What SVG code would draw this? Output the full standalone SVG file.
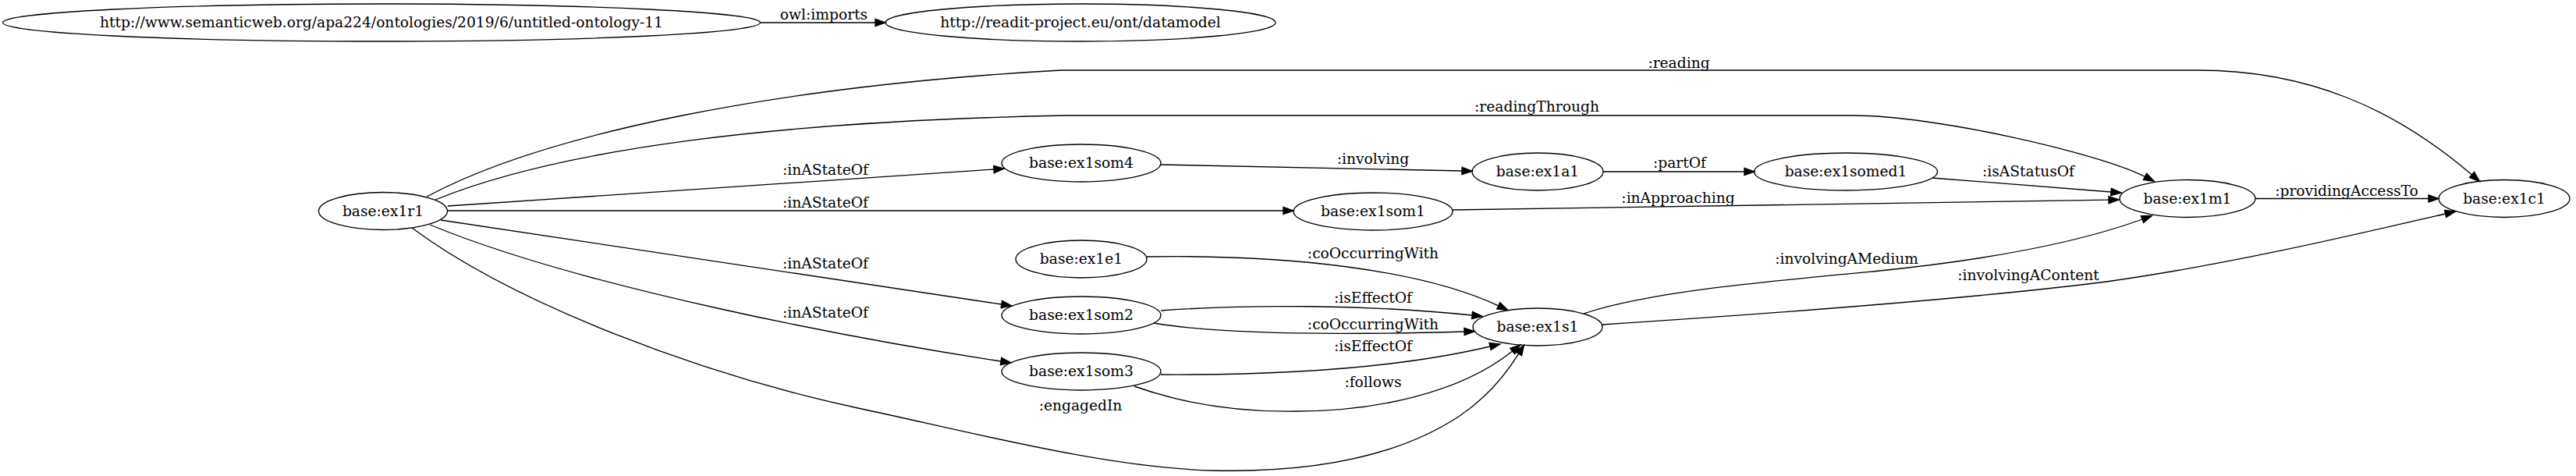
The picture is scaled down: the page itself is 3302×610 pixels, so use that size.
<svg xmlns="http://www.w3.org/2000/svg" width="3302" height="610" viewBox="0 0 3302 610">
<style>
  .node ellipse { fill: none; stroke: #000; stroke-width: 1.33; }
  text { font-family: "DejaVu Serif", "Liberation Serif", serif; font-size: 18.67px; fill: #000; text-anchor: middle; }
  .edge path { fill: none; stroke: #000; stroke-width: 1.33; marker-end: url(#arrow); }
</style>
<defs>
  <marker id="arrow" viewBox="-1 -6 16 12" refX="0" refY="0" markerWidth="16" markerHeight="12" orient="auto" markerUnits="userSpaceOnUse">
    <path d="M0,-4.67 L13.3,0 L0,4.67 Z" fill="#000" stroke="#000" stroke-width="1.33"/>
  </marker>
</defs>
<rect width="3302" height="610" fill="#fff"/>

<g id="edges">
  <g class="edge" id="e-imports"><path d="M975,29 L1122,29"/><text x="1056" y="24.5">owl:imports</text></g>
  <g class="edge" id="e-reading"><path d="M547,252 C700,170 1000,110 1360,90 L2817,90 C2960,90 3070,140 3168.5,224"/><text x="2152" y="86.5">:reading</text></g>
  <g class="edge" id="e-readingThrough"><path d="M558,256 C720,190 1000,155 1367,148 L2375,148 C2480,148 2690,196 2749.5,226.4"/><text x="1970" y="143">:readingThrough</text></g>
  <g class="edge" id="e-som4"><path d="M574,264 L1274,217"/><text x="1058" y="224">:inAStateOf</text></g>
  <g class="edge" id="e-som1"><path d="M573,270 L1645,270"/><text x="1058" y="266">:inAStateOf</text></g>
  <g class="edge" id="e-som2"><path d="M565,282 L1283.8,390"/><text x="1058" y="344">:inAStateOf</text></g>
  <g class="edge" id="e-som3"><path d="M551,288 C750,370 1100,435 1283,463"/><text x="1058" y="407">:inAStateOf</text></g>
  <g class="edge" id="e-engagedIn"><path d="M528,292 C660,390 900,480 1100,523 C1250,555 1420,600 1556,603 C1700,606 1800,580 1871,533 C1905,510 1930,480 1946.6,453.3"/><text x="1385" y="526">:engagedIn</text></g>
  <g class="edge" id="e-involving"><path d="M1488,211 L1874,219"/><text x="1760" y="210">:involving</text></g>
  <g class="edge" id="e-partOf"><path d="M2055,220 L2236,220"/><text x="2153" y="215">:partOf</text></g>
  <g class="edge" id="e-isAStatusOf"><path d="M2477,228 L2706,246"/><text x="2600" y="226">:isAStatusOf</text></g>
  <g class="edge" id="e-inApproaching"><path d="M1862,269 L2703,256.2"/><text x="2151" y="259.5">:inApproaching</text></g>
  <g class="edge" id="e-providingAccessTo"><path d="M2891,254.5 L3113,254.5"/><text x="3008" y="250.5">:providingAccessTo</text></g>
  <g class="edge" id="e-e1-co"><path d="M1470,329 C1650,326 1820,345 1920.7,391.8"/><text x="1760" y="331">:coOccurringWith</text></g>
  <g class="edge" id="e-som2-eff"><path d="M1488,398 C1600,390 1750,390 1887,404"/><text x="1760" y="388">:isEffectOf</text></g>
  <g class="edge" id="e-som2-co"><path d="M1479,414 C1560,428 1700,430 1877,425"/><text x="1760" y="422">:coOccurringWith</text></g>
  <g class="edge" id="e-som3-eff"><path d="M1488,480 C1650,481 1800,470 1910,444"/><text x="1760" y="450">:isEffectOf</text></g>
  <g class="edge" id="e-follows"><path d="M1454,495 C1530,522 1600,528 1661,527 C1760,527 1870,505 1938.6,450"/><text x="1760" y="496">:follows</text></g>
  <g class="edge" id="e-medium"><path d="M2030,402 C2110,375 2250,362 2400,348 C2520,336 2650,316 2746,281"/><text x="2367" y="337.5">:involvingAMedium</text></g>
  <g class="edge" id="e-content"><path d="M2054,416 C2300,400 2550,380 2700,361 C2850,340 3000,305 3134.6,274"/><text x="2600" y="358.5">:involvingAContent</text></g>
</g>

<g id="n-ont" class="node"><ellipse cx="489" cy="29" rx="485.5" ry="24"/><text x="489" y="35">http://www.semanticweb.org/apa224/ontologies/2019/6/untitled-ontology-11</text></g>
<g id="n-datamodel" class="node"><ellipse cx="1385" cy="29" rx="250" ry="24"/><text x="1385" y="35">http://readit-project.eu/ont/datamodel</text></g>
<g id="n-ex1r1" class="node"><ellipse cx="491" cy="270.5" rx="82.5" ry="24"/><text x="491" y="276.5">base:ex1r1</text></g>
<g id="n-ex1som4" class="node"><ellipse cx="1386" cy="209" rx="102" ry="24"/><text x="1386" y="215">base:ex1som4</text></g>
<g id="n-ex1a1" class="node"><ellipse cx="1971" cy="220" rx="84" ry="24"/><text x="1971" y="226">base:ex1a1</text></g>
<g id="n-ex1somed1" class="node"><ellipse cx="2366" cy="220" rx="117.5" ry="24"/><text x="2366" y="226">base:ex1somed1</text></g>
<g id="n-ex1som1" class="node"><ellipse cx="1760" cy="271" rx="102" ry="24"/><text x="1760" y="277">base:ex1som1</text></g>
<g id="n-ex1m1" class="node"><ellipse cx="2804" cy="254.5" rx="87" ry="24"/><text x="2804" y="260.5">base:ex1m1</text></g>
<g id="n-ex1c1" class="node"><ellipse cx="3210" cy="254.5" rx="84" ry="24"/><text x="3210" y="260.5">base:ex1c1</text></g>
<g id="n-ex1e1" class="node"><ellipse cx="1386" cy="332" rx="84" ry="24"/><text x="1386" y="338">base:ex1e1</text></g>
<g id="n-ex1som2" class="node"><ellipse cx="1386" cy="404" rx="102" ry="24"/><text x="1386" y="410">base:ex1som2</text></g>
<g id="n-ex1som3" class="node"><ellipse cx="1386" cy="476" rx="102" ry="24"/><text x="1386" y="482">base:ex1som3</text></g>
<g id="n-ex1s1" class="node"><ellipse cx="1971" cy="419" rx="83" ry="24"/><text x="1971" y="425">base:ex1s1</text></g>
</svg>
